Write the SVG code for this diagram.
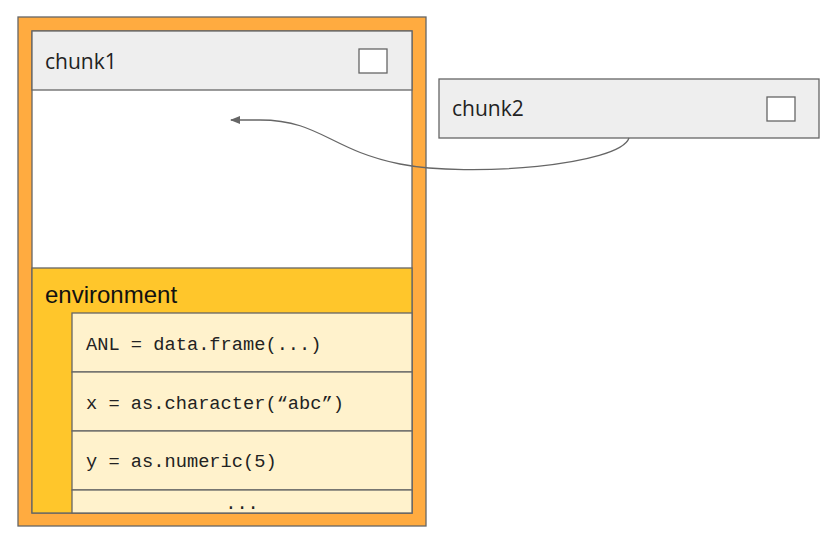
<svg xmlns="http://www.w3.org/2000/svg" width="833" height="547" viewBox="0 0 833 547">
<style>
.b{stroke:#666;stroke-width:1.3}
.hdr{fill:#eeeeee}
.chk{fill:#fff;stroke:#666;stroke-width:1.3}
.title{font-family:"Open Sans","DejaVu Sans",sans-serif;font-size:21px;fill:#222}
.code{font-family:"Liberation Mono",monospace;font-size:18.7px;fill:#222}
.row{fill:#fff2cc}
</style>
<defs>
<marker id="ah" markerWidth="10" markerHeight="8" refX="9" refY="4" orient="auto" markerUnits="userSpaceOnUse">
<path d="M0,0 L10,4 L0,8 z" fill="#666"/>
</marker>
</defs>
<g id="chunk1">
<rect class="b" x="18" y="17" width="408" height="509" fill="#ffab40"/>
<rect class="b" x="32" y="31" width="380" height="482" fill="#fff"/>
<rect class="b hdr" x="32" y="31" width="380" height="59"/>
<text class="title" x="45" y="69">chunk1</text>
<rect class="chk" x="359" y="49" width="28" height="24"/>
</g>
<g id="environment">
<rect class="b" x="32" y="268" width="380" height="245" fill="#ffc62b"/>
<text x="45" y="303" font-family="Liberation Sans,Arial,sans-serif" font-size="24" fill="#111">environment</text>
<rect class="b row" x="72" y="313" width="340" height="59"/>
<text class="code" x="86" y="350">ANL = data.frame(...)</text>
<rect class="b row" x="72" y="372" width="340" height="59"/>
<text class="code" x="86" y="409">x = as.character(“abc”)</text>
<rect class="b row" x="72" y="431" width="340" height="59"/>
<text class="code" x="86" y="467">y = as.numeric(5)</text>
<rect class="b row" x="72" y="490" width="340" height="23"/>
<text class="code" x="242" y="509" text-anchor="middle">...</text>
</g>
<g id="chunk2">
<rect class="b hdr" x="439" y="79" width="380" height="59"/>
<text class="title" x="452" y="116">chunk2</text>
<rect class="chk" x="767" y="97" width="28" height="24"/>
</g>
<g id="connectors">
<path d="M629,138 C620,165 470,178 400,164 C330,150 320,120 260,120 L231,120" fill="none" stroke="#666" stroke-width="1.3" marker-end="url(#ah)"/>
</g>
</svg>
